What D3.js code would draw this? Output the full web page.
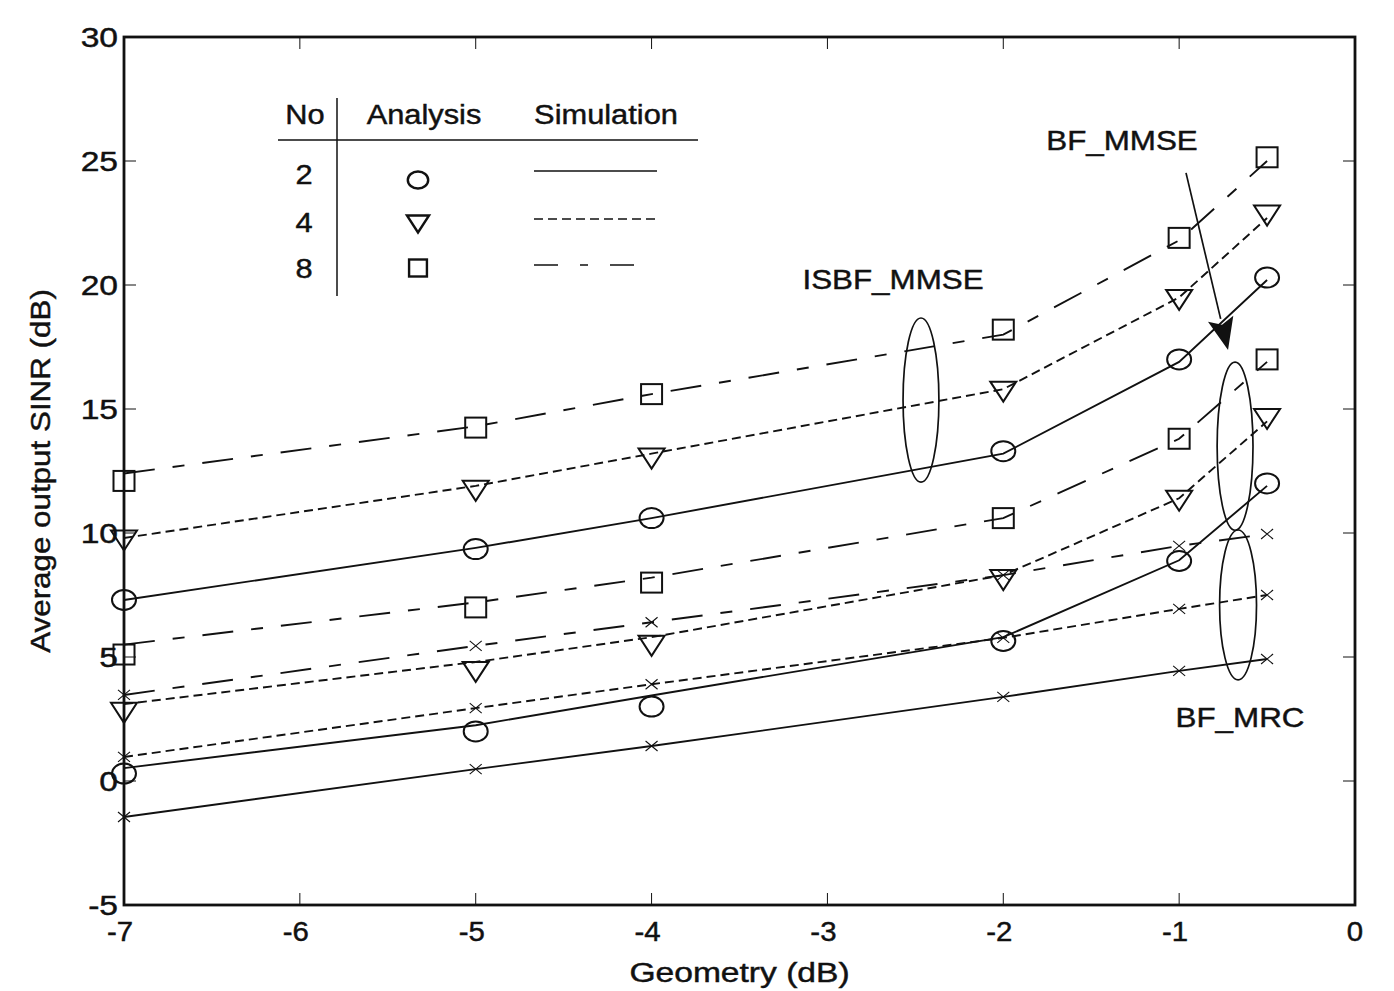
<!DOCTYPE html>
<html>
<head>
<meta charset="utf-8">
<script src="https://cdn.jsdelivr.net/npm/d3@7"></script>
<style>
  body { margin: 0; background: #fff; }
  svg text { font-family: "Liberation Sans", Arial, Helvetica, sans-serif; fill: #111; stroke: #111; stroke-width: 0.45px; }
</style>
</head>
<body>
<svg id="chart" width="1394" height="991"></svg>
<script>
// geometry values (dB) where each curve is evaluated
var geometry = [-7, -5, -4, -2, -1, -0.5];

// ISBF_MMSE: analysis (markers) and simulation (lines), No = 2, 4, 8
var isbfAna2 = [7.3, 9.35, 10.6, 13.3, 17.0, 20.3];
var isbfAna4 = [9.7, 11.7, 13.0, 15.7, 19.4, 22.8];
var isbfAna8 = [12.1, 14.25, 15.6, 18.2, 21.9, 25.15];
var isbfSim2 = [7.3, 9.4, 10.6, 13.2, 16.9, 20.2];
var isbfSim4 = [9.8, 11.9, 13.2, 15.8, 19.5, 22.7];
var isbfSim8 = [12.4, 14.3, 15.6, 18.0, 21.8, 25.0];

// BF_MMSE
var bfAna2 = [0.3, 2.0, 3.0, 5.65, 8.87, 12.0];
var bfAna4 = [2.75, 4.4, 5.45, 8.1, 11.3, 14.6];
var bfAna8 = [5.1, 7.0, 8.0, 10.6, 13.8, 17.0];
var bfSim2 = [0.52, 2.25, 3.45, 5.8, 8.9, 11.9];
var bfSim4 = [3.1, 4.8, 5.8, 8.3, 11.4, 14.5];
var bfSim8 = [5.5, 7.2, 8.2, 10.6, 13.8, 16.9];

// BF_MRC (simulation only, drawn with x markers)
var mrcSim2 = [-1.45, 0.48, 1.41, 3.39, 4.44, 4.92];
var mrcSim4 = [0.97, 2.94, 3.9, 5.77, 6.94, 7.5];
var mrcSim8 = [3.47, 5.45, 6.4, 8.3, 9.48, 9.96];

var xTicks = [-7, -6, -5, -4, -3, -2, -1, 0];
var yTicks = [-5, 0, 5, 10, 15, 20, 25, 30];
var legendNo = ['2', '4', '8'];

(function (d3) {
    'use strict';

    var svg = d3.select('#chart'),
        margin = {left: 124, top: 37, right: 39, bottom: 86},
        width = 1394 - margin.left - margin.right,
        height = 991 - margin.top - margin.bottom,
        x = d3.scaleLinear().domain([-7, 0]).range([margin.left, margin.left + width]),
        y = d3.scaleLinear().domain([-5, 30]).range([margin.top + height, margin.top]),
        dashes = {'2': null, '4': '9,5', '8': '31,18,12,18'},
        g = svg.append('g');

    // text squeezed like the scanned figure: a little wider than the font
    function label(parent, str, px, py, size, anchor, sx) {
        return parent.append('text')
            .attr('transform', 'translate(' + px + ',' + py + ') scale(' + (sx || 1.18) + ',1)')
            .attr('text-anchor', anchor || 'middle')
            .style('font-size', size + 'px')
            .text(str);
    }

    function marker(parent, kind, cx, cy, big) {
        var s = big ? 0.85 : 1;
        if (kind === 'circle') {
            parent.append('ellipse')
                .attr('cx', cx).attr('cy', cy)
                .attr('rx', 12 * s).attr('ry', 10 * s);
        } else if (kind === 'tri') {
            parent.append('path')
                .attr('d', 'M' + (cx - 13 * s) + ',' + (cy - 10 * s) +
                    'L' + (cx + 13 * s) + ',' + (cy - 10 * s) +
                    'L' + cx + ',' + (cy + 10 * s) + 'Z');
        } else if (kind === 'square') {
            parent.append('rect')
                .attr('x', cx - 10.5 * s).attr('y', cy - 10 * s)
                .attr('width', 21 * s).attr('height', 20 * s);
        } else {
            parent.append('path')
                .attr('d', 'M' + (cx - 6) + ',' + (cy - 5) + 'L' + (cx + 6) + ',' + (cy + 5) +
                    'M' + (cx - 6) + ',' + (cy + 5) + 'L' + (cx + 6) + ',' + (cy - 5))
                .style('stroke-width', 1.1);
        }
    }

    var line = d3.line()
        .x(function (d) { return x(d[0]); })
        .y(function (d) { return y(d[1]); });

    var sims = [
        {no: '2', v: isbfSim2}, {no: '4', v: isbfSim4}, {no: '8', v: isbfSim8},
        {no: '2', v: bfSim2}, {no: '4', v: bfSim4}, {no: '8', v: bfSim8},
        {no: '2', v: mrcSim2, cross: true}, {no: '4', v: mrcSim4, cross: true}, {no: '8', v: mrcSim8, cross: true}
    ];
    var anas = [
        {kind: 'circle', v: isbfAna2}, {kind: 'tri', v: isbfAna4}, {kind: 'square', v: isbfAna8},
        {kind: 'circle', v: bfAna2}, {kind: 'tri', v: bfAna4}, {kind: 'square', v: bfAna8}
    ];

    var curves = g.append('g').attr('fill', 'none').attr('stroke', '#111');
    sims.forEach(function (s) {
        var pts = geometry.map(function (gx, i) { return [gx, s.v[i]]; });
        curves.append('path')
            .attr('d', line(pts))
            .style('stroke-width', 1.9)
            .style('stroke-dasharray', dashes[s.no]);
        if (s.cross) {
            pts.forEach(function (p) { marker(curves, 'x', x(p[0]), y(p[1])); });
        }
    });

    var marks = g.append('g').attr('fill', 'none').attr('stroke', '#111').style('stroke-width', 2);
    anas.forEach(function (a) {
        geometry.forEach(function (gx, i) {
            marker(marks, a.kind, x(gx), y(a.v[i]));
        });
    });

    // axis box with inward ticks on all four sides
    var axes = g.append('g').attr('stroke', '#111');
    axes.append('rect')
        .attr('x', margin.left).attr('y', margin.top)
        .attr('width', width).attr('height', height)
        .attr('fill', 'none').style('stroke-width', 2.8);
    xTicks.forEach(function (t) {
        axes.append('line').attr('x1', x(t)).attr('x2', x(t))
            .attr('y1', y(-5)).attr('y2', y(-5) - 12).style('stroke-width', 1);
        axes.append('line').attr('x1', x(t)).attr('x2', x(t))
            .attr('y1', y(30)).attr('y2', y(30) + 12).style('stroke-width', 1);
        label(g, String(t), x(t) - (t < 0 ? 4 : 0), y(-5) + 36, 28, 'middle', 1.05);
    });
    yTicks.forEach(function (t) {
        axes.append('line').attr('x1', x(-7)).attr('x2', x(-7) + 12)
            .attr('y1', y(t)).attr('y2', y(t)).style('stroke-width', 1);
        axes.append('line').attr('x1', x(0)).attr('x2', x(0) - 12)
            .attr('y1', y(t)).attr('y2', y(t)).style('stroke-width', 1);
        label(g, String(t), x(-7) - 6, y(t) + 10, 28, 'end', 1.2);
    });

    label(g, 'Geometry (dB)', x(-3.5), 982, 28, 'middle', 1.2);
    g.append('text')
        .attr('transform', 'translate(50,' + y(12.5) + ') rotate(-90) scale(1.12,1)')
        .attr('text-anchor', 'middle')
        .style('font-size', '28px')
        .text('Average output SINR (dB)');

    // annotations, placed in data units
    var ann = g.append('g').attr('fill', 'none').attr('stroke', '#111').style('stroke-width', 1.7);
    [[-2.468, 15.36, 0.102, 3.31], [-0.682, 13.5, 0.102, 3.39], [-0.665, 7.1, 0.105, 3.02]]
        .forEach(function (e) {
            ann.append('ellipse')
                .attr('cx', x(e[0])).attr('cy', y(e[1]))
                .attr('rx', x(e[2]) - x(0)).attr('ry', y(0) - y(e[3]));
        });

    var a0 = [x(-0.961), y(24.52)], a1 = [x(-0.722), y(17.38)],
        ang = Math.atan2(a1[1] - a0[1], a1[0] - a0[0]),
        hl = 32, hw = 13,
        bx = a1[0] - hl * Math.cos(ang), by = a1[1] - hl * Math.sin(ang);
    ann.append('line').attr('x1', a0[0]).attr('y1', a0[1]).attr('x2', bx).attr('y2', by);
    g.append('path')
        .attr('d', 'M' + a1[0] + ',' + a1[1] +
            'L' + (bx + hw * Math.sin(ang)) + ',' + (by - hw * Math.cos(ang)) +
            'L' + (bx + 6 * Math.cos(ang)) + ',' + (by + 6 * Math.sin(ang)) +
            'L' + (bx - hw * Math.sin(ang)) + ',' + (by + hw * Math.cos(ang)) + 'Z')
        .attr('fill', '#111');

    label(g, 'BF_MMSE', x(-1.325), y(25.44), 28, 'middle', 1.12);
    label(g, 'ISBF_MMSE', x(-2.627), y(19.84), 28, 'middle', 1.12);
    label(g, 'BF_MRC', x(-0.654), y(2.18), 28, 'middle', 1.12);

    // legend table
    var leg = g.append('g');
    label(leg, 'No', 305, 124, 28, 'middle', 1.1);
    label(leg, 'Analysis', 424, 124, 28, 'middle', 1.1);
    label(leg, 'Simulation', 606, 124, 28, 'middle', 1.1);
    leg.append('line').attr('x1', 278).attr('x2', 698).attr('y1', 140).attr('y2', 140)
        .attr('stroke', '#111').style('stroke-width', 1.5);
    leg.append('line').attr('x1', 337).attr('x2', 337).attr('y1', 98).attr('y2', 296)
        .attr('stroke', '#111').style('stroke-width', 1.5);
    var lm = leg.append('g').attr('fill', 'none').attr('stroke', '#111').style('stroke-width', 2.4);
    legendNo.forEach(function (no, i) {
        var ry = [174, 222, 268][i];
        label(leg, no, 304, ry + 10, 28, 'middle', 1.1);
        marker(lm, ['circle', 'tri', 'square'][i], 418, ry + [6, 2, 0][i], true);
        lm.append('line').attr('x1', 534).attr('x2', [657, 657, 645][i])
            .attr('y1', ry - 3).attr('y2', ry - 3)
            .style('stroke-width', 1.6)
            .style('stroke-dasharray', no === '8' ? '24,22,8,22' : dashes[no]);
    });
}(window.d3));
</script>
</body>
</html>
